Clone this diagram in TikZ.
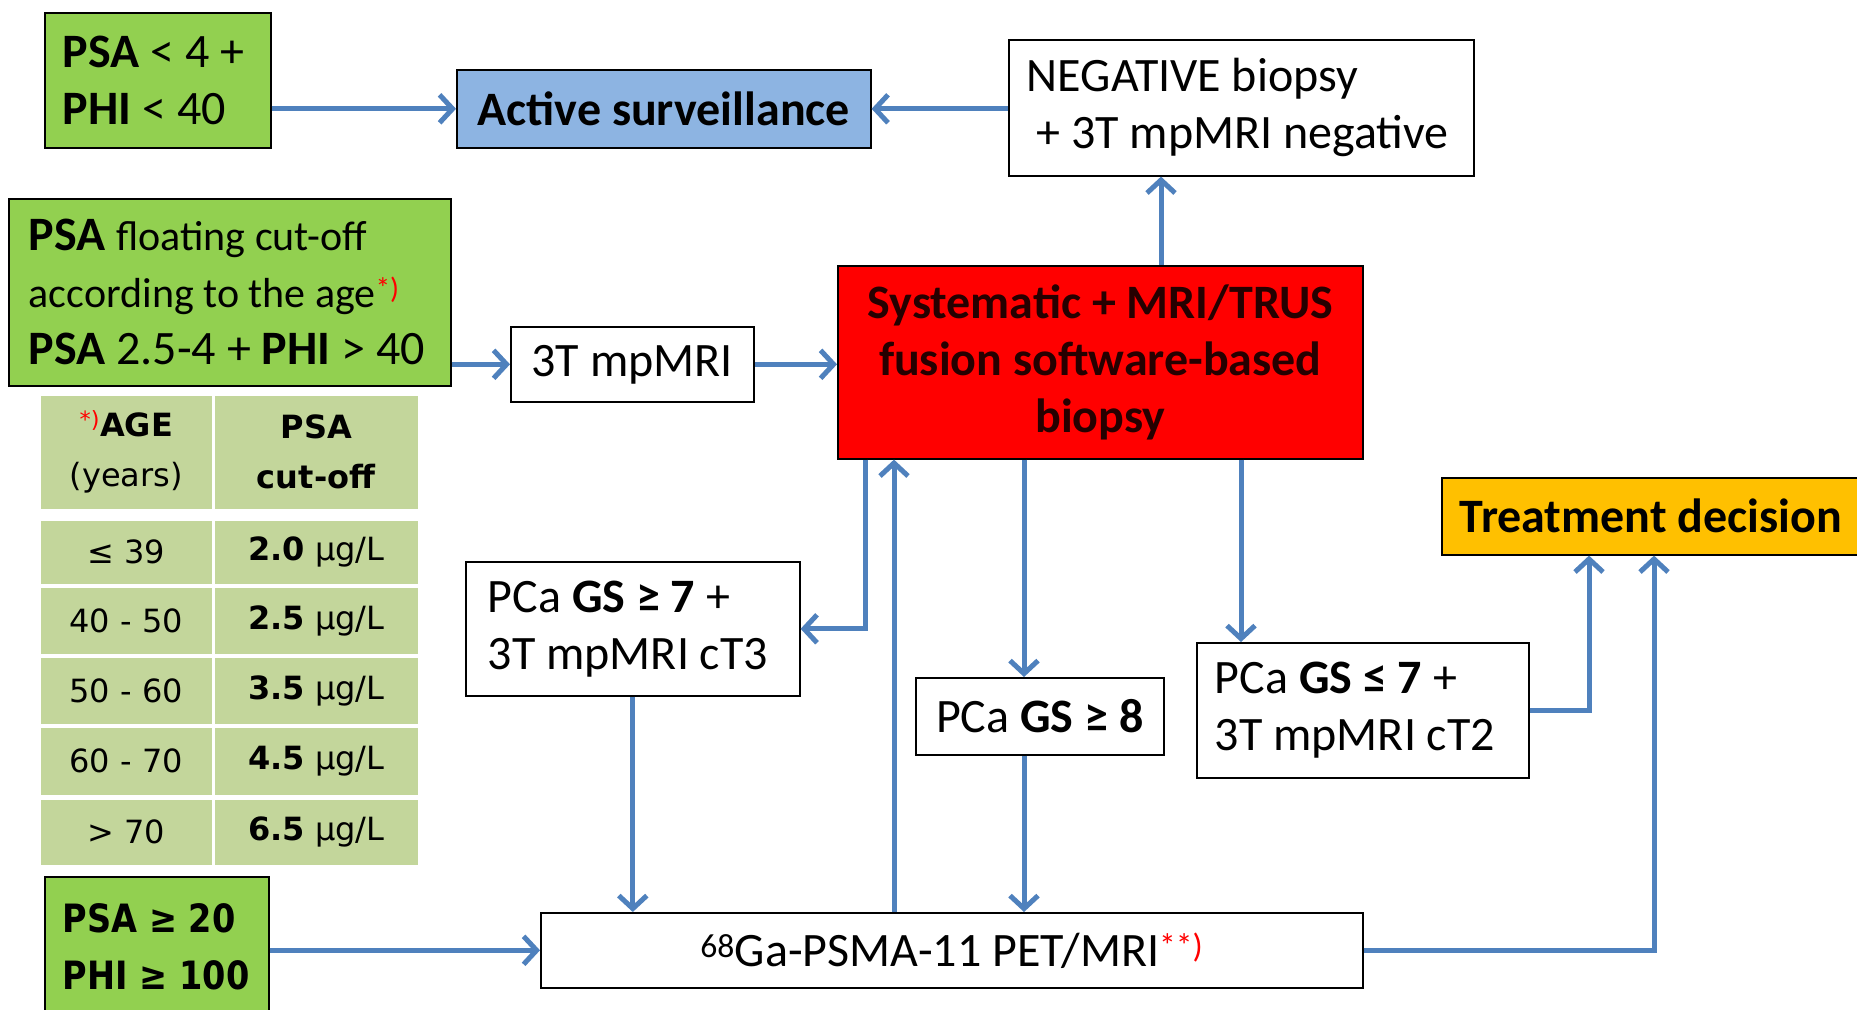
\documentclass[tikz,border=0pt]{standalone}
\usepackage{fontspec}
\setmainfont{Carlito}
\newfontfamily\verd{DejaVu Sans}
\newfontfamily\verdn[FakeStretch=0.86]{DejaVu Sans}
\usetikzlibrary{arrows.meta}
\definecolor{grn}{HTML}{92D050}
\definecolor{lblue}{HTML}{8DB4E2}
\definecolor{tabgrn}{HTML}{C3D69B}
\definecolor{yel}{HTML}{FFC000}
\definecolor{arrblue}{HTML}{4F81BD}
\newcommand\mainfs{\fontsize{48}{57}\selectfont}
\newcommand\smallfs{\fontsize{42}{55}\selectfont}
\newcommand\tabfs{\verd\fontsize{32}{50}\selectfont}
\newcommand\redsup[1]{\textsuperscript{\color{red}#1}}
\tikzset{
  box/.style={draw=black, line width=1.6pt, inner ysep=0pt, anchor=north west, font=\mainfs},
  cell/.style={draw=white, line width=2.5pt, fill=tabgrn, inner sep=0pt, anchor=north west, align=center, font=\tabfs},
  arr/.style={draw=arrblue, line width=5pt, -{Straight Barb[length=13pt,width=28pt]}},
}
\begin{document}
\begin{tikzpicture}[x=1pt,y=-1pt]
\useasboundingbox[fill=white] (0,0) rectangle (1857,1009);
% boxes
\node[box, fill=grn, inner xsep=18pt, text width=190pt, minimum height=135pt, align=flush left] (psa4) at (44,12)
  {\textbf{PSA} < 4 +\\\textbf{PHI} < 40};
\node[box, fill=lblue, inner xsep=0pt, minimum width=414pt, minimum height=78pt, align=center] (active) at (456,69)
  {\textbf{Active surveillance}};
\node[box, fill=white, inner xsep=18pt, text width=429pt, minimum height=136pt, align=flush left] (neg) at (1008,39)
  {NEGATIVE biopsy\\\hspace*{0.2em}+ 3T mpMRI negative};
\node[box, fill=grn, inner xsep=20pt, text width=402pt, minimum height=187pt, align=flush left] (psafl) at (8,198)
  {\textbf{PSA} {\smallfs floating cut-off}\\{\smallfs according to the age\redsup{*)}}\\\textbf{PSA} 2.5-4 + \textbf{PHI} > 40};
\node[box, fill=white, inner xsep=0pt, minimum width=243pt, minimum height=75pt, align=center] (mri) at (510,326)
  {3T mpMRI};
\node[box, fill=red, inner xsep=0pt, minimum width=525pt, minimum height=193pt, align=center, text=black!85!red] (bx) at (837,265)
  {\textbf{Systematic + MRI/TRUS}\\\textbf{fusion software-based}\\\textbf{biopsy}};
\node[box, fill=yel, inner xsep=0pt, minimum width=418pt, minimum height=77pt, align=center] (treat) at (1441,477)
  {\textbf{Treatment decision}};
\node[box, fill=white, inner xsep=22pt, text width=290pt, minimum height=134pt, align=flush left] (gsa) at (465,561)
  {PCa \textbf{GS ≥ 7} +\\3T mpMRI cT3};
\node[box, fill=white, inner xsep=0pt, minimum width=248pt, minimum height=77pt, align=center] (gsb) at (915,677)
  {PCa \textbf{GS ≥ 8}};
\node[box, fill=white, inner xsep=18pt, text width=296pt, minimum height=135pt, align=flush left] (gsc) at (1196,642)
  {PCa \textbf{GS ≤ 7} +\\3T mpMRI cT2};
\node[box, fill=grn, inner xsep=18pt, text width=188pt, minimum height=140pt, align=flush left, font=\verdn\bfseries\fontsize{39}{57}\selectfont] (psa20) at (44,876)
  {PSA ≥ 20\\PHI ≥ 100};
\node[box, fill=white, inner xsep=0pt, minimum width=822pt, minimum height=75pt, align=center] (ga) at (540,912)
  {\textsuperscript{68}Ga-PSMA-11 PET/MRI\redsup{**)}};
% table
\node[cell, minimum width=174pt, minimum height=116pt] (h1) at (38,393) {\redsup{*)}\textbf{AGE}\\(years)};
\node[cell, minimum width=206pt, minimum height=116pt] (h2) at (212,393) {\textbf{PSA}\\\textbf{cut-off}};
\node[cell, minimum width=174pt, minimum height=66pt] (a1) at (38,518) {≤ 39};
\node[cell, minimum width=206pt, minimum height=66pt] (b1) at (212,518) {\textbf{2.0} μg/L};
\node[cell, minimum width=174pt, minimum height=69pt] (a2) at (38,585) {40 - 50};
\node[cell, minimum width=206pt, minimum height=69pt] (b2) at (212,585) {\textbf{2.5} μg/L};
\node[cell, minimum width=174pt, minimum height=69pt] (a3) at (38,655) {50 - 60};
\node[cell, minimum width=206pt, minimum height=69pt] (b3) at (212,655) {\textbf{3.5} μg/L};
\node[cell, minimum width=174pt, minimum height=70pt] (a4) at (38,725) {60 - 70};
\node[cell, minimum width=206pt, minimum height=70pt] (b4) at (212,725) {\textbf{4.5} μg/L};
\node[cell, minimum width=174pt, minimum height=68pt] (a5) at (38,797) {> 70};
\node[cell, minimum width=206pt, minimum height=68pt] (b5) at (212,797) {\textbf{6.5} μg/L};
% helper x positions
\coordinate (xneg) at (1161,0);
\coordinate (xgsa) at (865,0);
\coordinate (xga) at (894,0);
\coordinate (xgsb) at (1024,0);
\coordinate (xgsc) at (1241,0);
\coordinate (xt1) at (1589,0);
\coordinate (xt2) at (1654,0);
% arrows
\draw[arr] (psa4.east |- active.west) -- (active.west);
\draw[arr] (neg.west |- active.east) -- (active.east);
\draw[arr] (bx.north -| xneg) -- (neg.south -| xneg);
\draw[arr] (psafl.east |- mri.west) -- (mri.west);
\draw[arr] (mri.east) -- (mri.east -| bx.west);
\draw[arr] (bx.south -| xgsa) |- (gsa.east);
\draw[arr] (ga.north -| xga) -- (bx.south -| xga);
\draw[arr] (bx.south -| xgsb) -- (gsb.north -| xgsb);
\draw[arr] (bx.south -| xgsc) -- (gsc.north -| xgsc);
\draw[arr] (gsa.south) -- (gsa.south |- ga.north);
\draw[arr] (gsb.south -| xgsb) -- (ga.north -| xgsb);
\draw[arr] (gsc.east) -| (treat.south -| xt1);
\draw[arr] (ga.east) -| (treat.south -| xt2);
\draw[arr] (psa20.east |- ga.west) -- (ga.west);
\end{tikzpicture}
\end{document}
